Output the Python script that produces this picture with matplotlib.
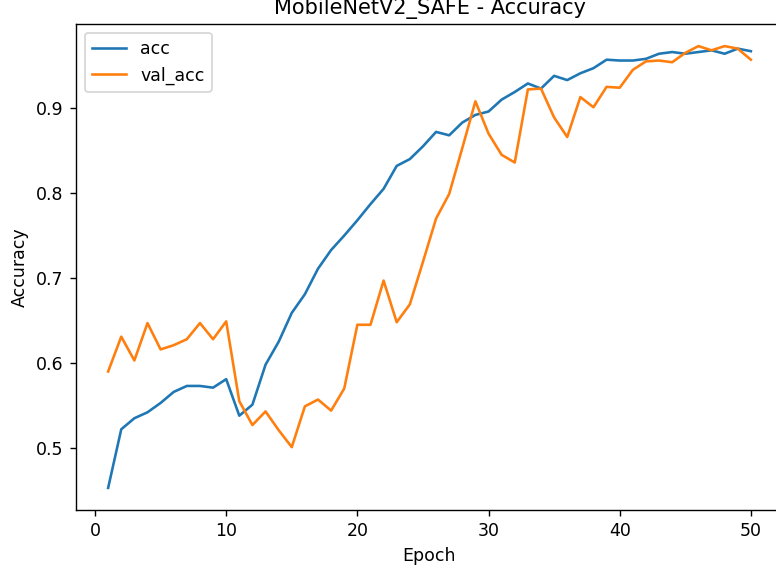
import numpy as np
import matplotlib
matplotlib.use('Agg')
import matplotlib.pyplot as plt

# training history, one value per epoch
epochs = np.arange(1, 51)

acc = [0.453, 0.522, 0.535, 0.542, 0.553, 0.566, 0.573, 0.573, 0.571, 0.581,
       0.538, 0.551, 0.598, 0.625, 0.659, 0.681, 0.711, 0.733, 0.750, 0.768,
       0.787, 0.805, 0.832, 0.840, 0.855, 0.872, 0.868, 0.883, 0.892, 0.896,
       0.910, 0.919, 0.929, 0.923, 0.938, 0.933, 0.941, 0.947, 0.957, 0.956,
       0.956, 0.958, 0.964, 0.966, 0.964, 0.966, 0.968, 0.964, 0.970, 0.967]

val_acc = [0.590, 0.631, 0.603, 0.647, 0.616, 0.621, 0.628, 0.647, 0.628, 0.649,
           0.555, 0.527, 0.543, 0.521, 0.501, 0.549, 0.557, 0.544, 0.570, 0.645,
           0.645, 0.697, 0.648, 0.669, 0.719, 0.770, 0.799, 0.853, 0.908, 0.870,
           0.845, 0.836, 0.922, 0.923, 0.889, 0.866, 0.913, 0.901, 0.925, 0.924,
           0.945, 0.955, 0.956, 0.954, 0.965, 0.973, 0.968, 0.973, 0.970, 0.957]

W, H, dpi = 776, 573, 125
fig = plt.figure(figsize=(W / dpi, H / dpi), dpi=dpi)
ax = fig.add_axes([76 / W, (H - 510) / H, 707 / W, 486 / H])

ax.plot(epochs, acc, label='acc')
ax.plot(epochs, val_acc, label='val_acc')
ax.set_title('MobileNetV2_SAFE - Accuracy')
ax.set_xlabel('Epoch')
ax.set_ylabel('Accuracy')
ax.legend(loc='upper left')

fig.savefig('out.png', dpi=dpi)
